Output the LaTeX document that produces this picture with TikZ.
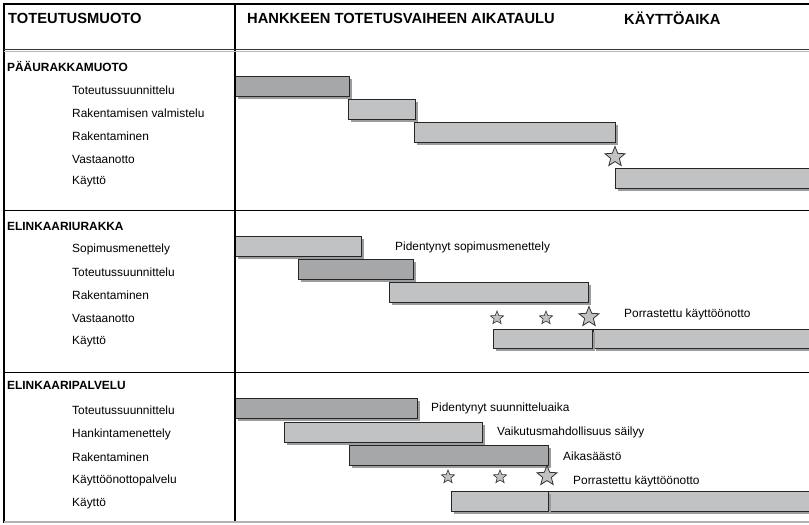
\documentclass[tikz,border=0pt]{standalone}
\usepackage{fontspec}
\setmainfont{Liberation Sans}
\usetikzlibrary{shapes.geometric,shadows}
\definecolor{bardark}{HTML}{A6A7A9}
\definecolor{barlight}{HTML}{C1C2C4}
\definecolor{shadowc}{HTML}{9C9C9C}
\definecolor{rulegray}{HTML}{8A8A8A}
\tikzset{
  barbase/.style={draw=black!85, line width=0.8pt, inner sep=0pt, anchor=north west, minimum height=20pt,
     drop shadow={shadow xshift=2.5pt, shadow yshift=-2.5pt, fill=shadowc, opacity=1}},
  darkbar/.style={barbase, fill=bardark},
  lightbar/.style={barbase, fill=barlight},
  smallstar/.style={star, star points=5, star point ratio=2.3, draw=black!80, fill=barlight, line width=0.6pt, minimum size=14pt, inner sep=0pt},
  bigstar/.style={star, star points=5, star point ratio=2.3, draw=black!80, fill=barlight, line width=0.8pt, minimum size=21pt, inner sep=0pt},
  headtxt/.style={anchor=west, inner sep=0pt, font=\fontsize{14.7}{16}\selectfont\bfseries},
  sectxt/.style={anchor=west, inner sep=0pt, font=\fontsize{11.9}{14}\selectfont\bfseries},
  lbl/.style={anchor=west, inner sep=0pt, font=\fontsize{11.9}{14}\selectfont},
}
\begin{document}
\begin{tikzpicture}[x=1pt,y=-1pt]
\useasboundingbox (0,0) rectangle (809,525);
\clip (0,0) rectangle (809,525);
\fill[white] (0,0) rectangle (809,525);
% header
\node[headtxt] (h1) at (8,18) {TOTEUTUSMUOTO};
\node[headtxt] (h2) at (247,18) {HANKKEEN TOTETUSVAIHEEN AIKATAULU};
\node[headtxt] (h3) at (624,18) {KÄYTTÖAIKA};
% section 1
\node[sectxt] (sA) at (7,66) {PÄÄURAKKAMUOTO};
\node[lbl] (a1) at (72,90.7) {Toteutussuunnittelu};
\node[lbl] (a2) at (72,113.5) {Rakentamisen valmistelu};
\node[lbl] (a3) at (72,136.3) {Rakentaminen};
\node[lbl] (a4) at (72,159.1) {Vastaanotto};
\node[lbl] (a5) at (72,181.9) {Käyttö};
\node[darkbar, minimum width=114pt] (b11) at (235,76) {};
\node[lightbar, minimum width=67pt] (b12) at (348,99) {};
\node[lightbar, minimum width=201pt] (b13) at (414,122) {};
\node[lightbar, minimum width=200pt] (b15) at (615,168) {};
\node[bigstar] (s11) at (615,157) {};
% section 2
\node[sectxt] (sB) at (7,226) {ELINKAARIURAKKA};
\node[lbl] (c1) at (72,249) {Sopimusmenettely};
\node[lbl] (c2) at (72,272) {Toteutussuunnittelu};
\node[lbl] (c3) at (72,295) {Rakentaminen};
\node[lbl] (c4) at (72,318.5) {Vastaanotto};
\node[lbl] (c5) at (72,341.5) {Käyttö};
\node[lightbar, minimum width=126pt] (b21) at (235,236) {};
\node[darkbar, minimum width=115pt] (b22) at (298,259) {};
\node[lightbar, minimum width=199pt] (b23) at (389,282) {};
\node[lightbar, minimum width=222pt, minimum height=19pt] (b25b) at (593,329) {};
\node[lightbar, minimum width=99pt, minimum height=19pt] (b25a) at (493,329) {};
\node[smallstar] (s21) at (497,318) {};
\node[smallstar] (s22) at (546,318) {};
\node[bigstar] (s23) at (589,317) {};
\node[lbl] (n21) at (395,247) {Pidentynyt sopimusmenettely};
\node[lbl] (n22) at (624,314) {Porrastettu käyttöönotto};
% section 3
\node[sectxt] (sC) at (7,385) {ELINKAARIPALVELU};
\node[lbl] (d1) at (72,410) {Toteutussuunnittelu};
\node[lbl] (d2) at (72,434) {Hankintamenettely};
\node[lbl] (d3) at (72,457.5) {Rakentaminen};
\node[lbl] (d4) at (72,480.5) {Käyttöönottopalvelu};
\node[lbl] (d5) at (72,503.5) {Käyttö};
\node[darkbar, minimum width=182pt] (b31) at (235,398) {};
\node[lightbar, minimum width=198pt] (b32) at (284,422) {};
\node[darkbar, minimum width=199pt] (b33) at (349,445) {};
\node[lightbar, minimum width=267pt] (b35b) at (548,491) {};
\node[lightbar, minimum width=97pt] (b35a) at (451,491) {};
\node[smallstar] (s31) at (448,477) {};
\node[smallstar] (s32) at (500,477) {};
\node[bigstar] (s33) at (547,476) {};
\node[lbl] (n31) at (431,408) {Pidentynyt suunnitteluaika};
\node[lbl] (n32) at (497,432) {Vaikutusmahdollisuus säilyy};
\node[lbl] (n33) at (563,456) {Aikasäästö};
\node[lbl] (n34) at (573,481) {Porrastettu käyttöönotto};
% frame
\draw[line width=2.2pt] (4,4) -- (815,4);
\draw[line width=1.8pt] (4,3) -- (4,523);
\draw[line width=1.6pt] (235,4) -- (235,523);
\draw[line width=1pt, black!80] (4,49.5) -- (815,49.5);
\draw[line width=1pt, rulegray!60] (4,51) -- (815,51);
\draw[line width=1.3pt] (4,210.5) -- (815,210.5);
\draw[line width=1.3pt] (4,372.8) -- (815,372.8);
\draw[line width=1.2pt, black!30] (4,522) -- (815,522);
\end{tikzpicture}
\end{document}
